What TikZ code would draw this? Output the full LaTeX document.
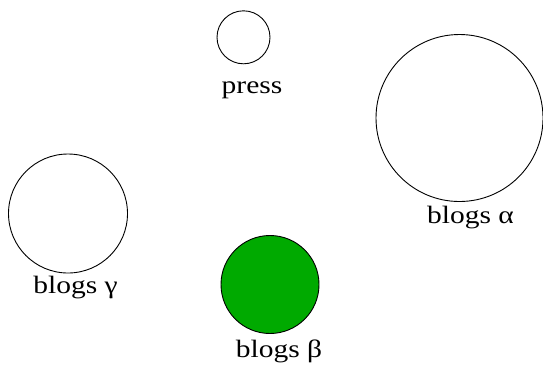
\documentclass[tikz,border=0pt]{standalone}
\usepackage{fontspec}
\setmainfont[FakeStretch=1.18]{Liberation Serif}
\begin{document}
\begin{tikzpicture}[x=1pt,y=-1pt,
  blob/.style={circle,draw=black,line width=0.9pt,inner sep=0pt,fill=white},
  lbl/.style={anchor=base,inner sep=0pt,font=\fontsize{25}{30}\selectfont}]
\useasboundingbox (0,0) rectangle (543,368);
\definecolor{leafgreen}{RGB}{0,170,0}
\node[blob,minimum size=53pt] (press) at (243.5,37.3) {};
\node[blob,minimum size=167pt] (alpha) at (459.5,118) {};
\node[blob,minimum size=119pt] (gamma) at (68,213.5) {};
\node[blob,minimum size=98pt,fill=leafgreen] (beta) at (270,284.5) {};
\node[lbl] (presslbl) at (252,93) {press};
\node[lbl] (alphalbl) at (470.5,223) {blogs α};
\node[lbl] (gammalbl) at (75.5,293) {blogs γ};
\node[lbl] (betalbl) at (279,357) {blogs β};
\end{tikzpicture}
\end{document}
